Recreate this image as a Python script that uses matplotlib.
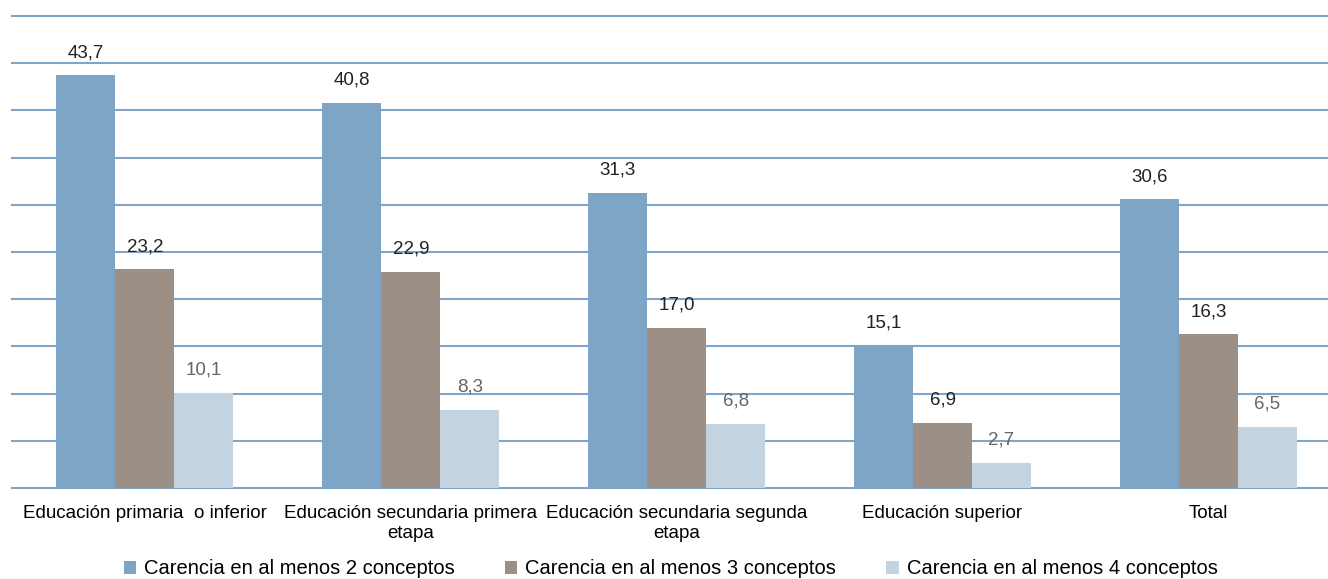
import matplotlib.pyplot as plt
import numpy as np

categories = ['Educación primaria  o inferior', 'Educación secundaria primera\netapa',
              'Educación secundaria segunda\netapa', 'Educación superior', 'Total']
series_names = ['Carencia en al menos 2 conceptos', 'Carencia en al menos 3 conceptos',
                'Carencia en al menos 4 conceptos']
al_menos_2 = [43.7, 40.8, 31.3, 15.1, 30.6]
al_menos_3 = [23.2, 22.9, 17.0, 6.9, 16.3]
al_menos_4 = [10.1, 8.3, 6.8, 2.7, 6.5]

colors = ['#7fa5c6', '#9c8f85', '#c3d3df']
label_colors = ['#222222', '#222222', '#666666']

plt.rcParams['font.family'] = ['Liberation Sans', 'DejaVu Sans']

fig = plt.figure(figsize=(13.28, 5.79), dpi=100)
ax = fig.add_axes([12 / 1328, 1 - 488 / 579, 1 - 12 / 1328, (488 - 16) / 579])

x = np.arange(len(categories))
width = 0.222
for i, (vals, name) in enumerate(zip([al_menos_2, al_menos_3, al_menos_4], series_names)):
    pos = x + (i - 1) * width
    bars = ax.bar(pos, vals, width, color=colors[i], label=name, zorder=3)
    for b, v in zip(bars, vals):
        ax.annotate(f"{v:.1f}".replace('.', ','), (b.get_x() + b.get_width() / 2, v),
                    xytext=(0, 10), textcoords='offset points', ha='center', va='bottom',
                    fontsize=13.5, color=label_colors[i])

ax.set_ylim(0, 50)
ax.set_xlim(-0.5, 4.45)
ax.set_yticks(range(0, 51, 5))
ax.yaxis.grid(True, color='#7fa6c9', linewidth=1.5, zorder=0)
for gl in ax.get_ygridlines():
    gl.set_clip_on(False)
ax.tick_params(axis='y', left=False, labelleft=False)
ax.tick_params(axis='x', length=0, pad=12, labelsize=13.5)
ax.set_xticks(x)
ax.set_xticklabels(categories, linespacing=1.25)
for s in ax.spines.values():
    s.set_visible(False)

fig.legend(loc='lower center', bbox_to_anchor=(0.505, -0.03), ncol=3, frameon=False,
           fontsize=14.5, handlelength=0.6, handleheight=0.6, columnspacing=2.5, handletextpad=0.4)

fig.savefig('out.png', dpi=100)
